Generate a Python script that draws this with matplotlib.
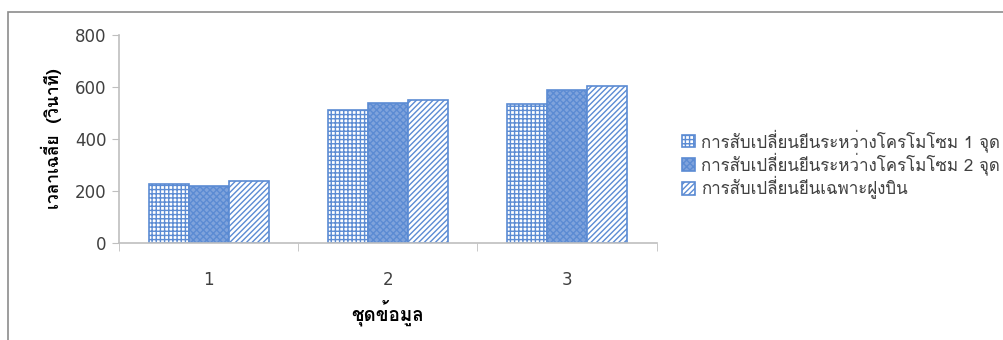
import numpy as np
import matplotlib
matplotlib.use('Agg')
import matplotlib.pyplot as plt
from matplotlib import font_manager
from matplotlib.ft2font import FT2Font
from matplotlib.patches import Rectangle

# ข้อมูล
categories = ['1', '2', '3']
series_names = ['การสับเปลี่ยนยีนระหว่างโครโมโซม 1 จุด',
                'การสับเปลี่ยนยีนระหว่างโครโมโซม 2 จุด',
                'การสับเปลี่ยนยีนเฉพาะฝูงบิน']
one_point = [228, 511, 533]
two_point = [219, 537, 587]
swarm_only = [240, 549, 604]
y_ticks = [0, 200, 400, 600, 800]

# find a font that has Thai glyphs
thai_font = None
for f in font_manager.fontManager.ttflist:
    try:
        if 0x0E01 in FT2Font(f.fname).get_charmap():
            thai_font = f.name
            break
    except Exception:
        pass
fams = ['DejaVu Sans']
if thai_font:
    fams = [thai_font, 'DejaVu Sans']
plt.rcParams['font.family'] = fams
plt.rcParams['hatch.linewidth'] = 1.0

blue = '#5B8BD3'
txt = '#404040'

fig = plt.figure(figsize=(10.04, 3.40), dpi=100)
ax = fig.add_axes([0.1185, 0.2853, 0.5355, 0.6117])

ind = np.arange(len(categories))
w = 0.223
b1 = ax.bar(ind - w, one_point, w, color='white', edgecolor=blue, hatch='++++', linewidth=1.2, label=series_names[0])
b2 = ax.bar(ind, two_point, w, color='#7FA3DC', edgecolor=blue, hatch='xxxxx', linewidth=1.2, label=series_names[1])
b3 = ax.bar(ind + w, swarm_only, w, color='white', edgecolor=blue, hatch='//////', linewidth=1.2, label=series_names[2])

ax.set_xlim(-0.5, 2.5)
ax.set_ylim(0, 800)
ax.set_yticks(y_ticks)
ax.set_xticks(ind)
ax.set_xticklabels(categories)
ax.set_xticks([-0.5, 0.5, 1.5, 2.5], minor=True)
ax.tick_params(axis='x', which='major', length=0, pad=20, labelsize=12, labelcolor=txt)
ax.tick_params(axis='x', which='minor', length=6, color='#BFBFBF', direction='out')
ax.tick_params(axis='y', length=5, color='#BFBFBF', labelsize=12, labelcolor=txt, pad=4)
for lab in ax.get_xticklabels() + ax.get_yticklabels():
    lab.set_family('DejaVu Sans')

for s in ['top', 'right']:
    ax.spines[s].set_visible(False)
for s in ['left', 'bottom']:
    ax.spines[s].set_color('#BFBFBF')
    ax.spines[s].set_linewidth(1.2)

ax.set_ylabel('เวลาเฉลี่ย  (วินาที)', fontsize=12.5, fontweight='bold', color='black', labelpad=9)
ax.set_xlabel('ชุดข้อมูล', fontsize=13.5, fontweight='bold', color='black', labelpad=8)

leg = ax.legend(loc='center left', bbox_to_anchor=(1.035, 0.38), frameon=False, fontsize=12.2,
                borderaxespad=0, handlelength=0.75, handleheight=0.75, handletextpad=0.35, labelspacing=0.05)
for t in leg.get_texts():
    t.set_color(txt)

# outer frame of the chart area
fig.patches.append(Rectangle((8 / 1004, -0.1), 1.2, 1 - 12 / 340 + 0.1, transform=fig.transFigure,
                             fill=False, edgecolor='#8C8C8C', linewidth=1.2))

fig.savefig('out.png', dpi=100)
